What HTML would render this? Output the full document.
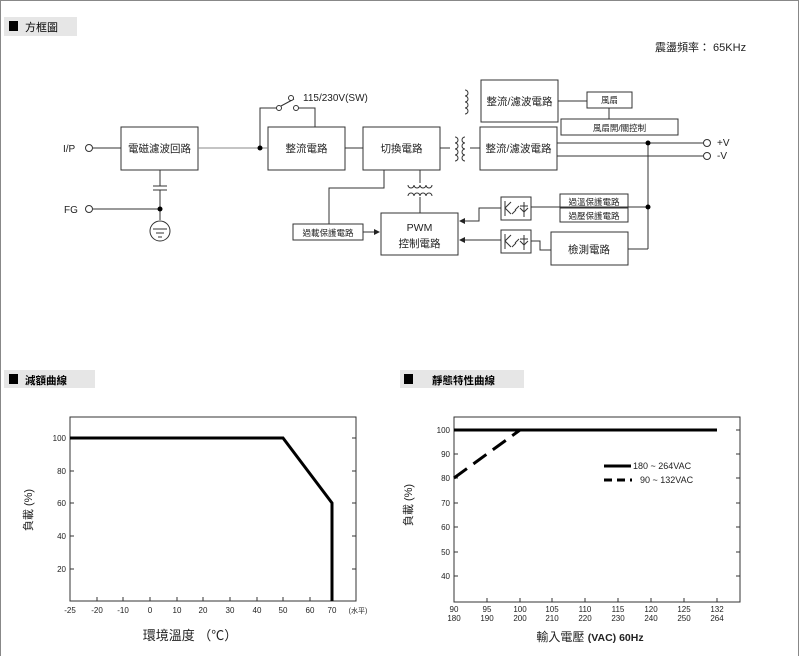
<!DOCTYPE html>
<html><head><meta charset="utf-8"><style>
body{margin:0;background:#fff;}
svg{display:block;font-family:"Liberation Sans","Noto Sans CJK TC",sans-serif;}
</style></head><body>
<svg width="800" height="656" viewBox="0 0 800 656" xmlns="http://www.w3.org/2000/svg">
<defs><marker id="ar" markerWidth="6" markerHeight="6" refX="5" refY="3" orient="auto"><path d="M0,0 L6,3 L0,6z" fill="#222"/></marker></defs>
<rect x="0.5" y="0.5" width="798" height="660" fill="none" stroke="#888"/>
<!-- header 1 -->
<rect x="4" y="17" width="73" height="19" fill="#e6e6e6"/>
<rect x="9" y="21" width="9" height="10" fill="#000"/>
<text x="25" y="31" font-size="11">方框圖</text>
<text x="655" y="51" font-size="11" fill="#222">震盪頻率： 65KHz</text>
<g fill="none" stroke="#333" stroke-width="1">
<rect x="121" y="127" width="77" height="43"/>
<rect x="268" y="127" width="77" height="43"/>
<rect x="363" y="127" width="77" height="43"/>
<rect x="481" y="80" width="77" height="42"/>
<rect x="480" y="127" width="77" height="43"/>
<rect x="587" y="92" width="45" height="16"/>
<rect x="561" y="119" width="117" height="16"/>
<rect x="560" y="194" width="68" height="28"/>
<line x1="560" y1="208" x2="628" y2="208"/>
<rect x="501" y="197" width="30" height="23"/>
<rect x="501" y="230" width="30" height="23"/>
<rect x="551" y="232" width="77" height="33"/>
<rect x="381" y="213" width="77" height="42"/>
<rect x="293" y="224" width="70" height="16"/>
<line x1="93" y1="148" x2="121" y2="148"/>
<line x1="198" y1="148" x2="268" y2="148" stroke="#888"/>
<polyline points="260,148 260,108 279,108"/>
<polyline points="296,108 315,108 315,127"/>
<line x1="281" y1="106" x2="294" y2="99"/>
<line x1="345" y1="148" x2="363" y2="148"/>
<line x1="440" y1="148" x2="450" y2="148"/>
<line x1="470" y1="148" x2="480" y2="148"/>
<line x1="558" y1="101" x2="587" y2="101"/>
<line x1="609" y1="108" x2="609" y2="119"/>
<line x1="557" y1="143" x2="703" y2="143"/>
<line x1="557" y1="156" x2="703" y2="156"/>
<line x1="648" y1="143" x2="648" y2="249"/>
<line x1="628" y1="249" x2="648" y2="249"/>
<line x1="531" y1="207" x2="648" y2="207"/>
<polyline points="531,241 540,241 540,250 551,250"/>
<polyline points="501,208 479,208 479,221 460,221" marker-end="url(#ar)"/>
<line x1="501" y1="240" x2="460" y2="240" marker-end="url(#ar)"/>
<polyline points="384,170 384,188 329,188 329,224"/>
<line x1="420" y1="170" x2="420" y2="183"/>
<line x1="420" y1="197" x2="420" y2="213"/>
<line x1="363" y1="232" x2="379" y2="232" marker-end="url(#ar)"/>
<line x1="160" y1="170" x2="160" y2="186"/>
<line x1="153" y1="186" x2="167" y2="186"/>
<line x1="153" y1="190" x2="167" y2="190"/>
<line x1="160" y1="190" x2="160" y2="220"/>
<line x1="93" y1="209" x2="160" y2="209"/>
<circle cx="160" cy="231" r="10"/>
<line x1="153" y1="229" x2="167" y2="229"/><line x1="156" y1="233" x2="164" y2="233"/><line x1="158" y1="237" x2="162" y2="237"/>
<!-- coils -->
<path d="M465,90 a3,3 0 0 1 0,6 a3,3 0 0 1 0,6 a3,3 0 0 1 0,6 a3,3 0 0 1 0,6"/>
<path d="M455,137 a3,3 0 0 1 0,6 a3,3 0 0 1 0,6 a3,3 0 0 1 0,6 a3,3 0 0 1 0,6"/>
<path d="M465,137 a3,3 0 0 0 0,6 a3,3 0 0 0 0,6 a3,3 0 0 0 0,6 a3,3 0 0 0 0,6"/>
<path d="M408,185 a3,3 0 0 0 6,0 a3,3 0 0 0 6,0 a3,3 0 0 0 6,0 a3,3 0 0 0 6,0"/>
<path d="M408,196 a3,3 0 0 1 6,0 a3,3 0 0 1 6,0 a3,3 0 0 1 6,0 a3,3 0 0 1 6,0"/>
<!-- opto glyphs -->
<path d="M505,201 v15 M505,208 l6,-6 M505,208 l6,6 M512,214 l4,-4 M515,210 l4,-4 M524,202 v15 M520,206 h8 M520,208 l4,4 l4,-4"/>
<path d="M505,234 v15 M505,241 l6,-6 M505,241 l6,6 M512,247 l4,-4 M515,243 l4,-4 M524,235 v15 M520,239 h8 M520,241 l4,4 l4,-4"/>
</g>
<g fill="#fff" stroke="#333">
<circle cx="89" cy="148" r="3.5"/><circle cx="89" cy="209" r="3.5"/>
<circle cx="707" cy="143" r="3.5"/><circle cx="707" cy="156" r="3.5"/>
<circle cx="279" cy="108" r="2.5"/><circle cx="296" cy="108" r="2.5"/><circle cx="291" cy="98" r="2.5"/>
</g>
<g fill="#000"><circle cx="260" cy="148" r="2.5"/><circle cx="160" cy="209" r="2.5"/><circle cx="648" cy="143" r="2.5"/><circle cx="648" cy="207" r="2.5"/></g>
<g font-size="10.5" fill="#222" text-anchor="middle">
<text x="159.5" y="152">電磁濾波回路</text>
<text x="306.5" y="152">整流電路</text>
<text x="401.5" y="152">切換電路</text>
<text x="519.5" y="105">整流/濾波電路</text>
<text x="518.5" y="152">整流/濾波電路</text>
<text x="589" y="253">檢測電路</text>
<text x="419.5" y="231">PWM</text>
<text x="419.5" y="247">控制電路</text>
</g>
<g font-size="8.5" fill="#222" text-anchor="middle">
<text x="609.5" y="103">風扇</text>
<text x="619.5" y="131">風扇開/關控制</text>
<text x="594" y="205">過溫保護電路</text>
<text x="594" y="219">過壓保護電路</text>
<text x="328" y="236">過載保護電路</text>
</g>
<g font-size="10" fill="#222">
<text x="303" y="101">115/230V(SW)</text>
<text x="63" y="152">I/P</text>
<text x="64" y="213">FG</text>
<text x="717" y="146">+V</text>
<text x="717" y="159">-V</text>
</g>
<!-- chart 1 -->
<rect x="4" y="370" width="91" height="18" fill="#e6e6e6"/>
<rect x="9" y="374" width="9" height="10" fill="#000"/>
<text x="25" y="384" font-size="10.5" font-weight="bold">減額曲線</text>
<rect x="70" y="417" width="286" height="184" fill="none" stroke="#333"/>
<g stroke="#333">
<line x1="70" y1="438" x2="74" y2="438"/><line x1="70" y1="471" x2="74" y2="471"/><line x1="70" y1="503" x2="74" y2="503"/><line x1="70" y1="536" x2="74" y2="536"/><line x1="70" y1="569" x2="74" y2="569"/>
<line x1="352" y1="438" x2="356" y2="438"/><line x1="352" y1="471" x2="356" y2="471"/><line x1="352" y1="503" x2="356" y2="503"/><line x1="352" y1="536" x2="356" y2="536"/><line x1="352" y1="569" x2="356" y2="569"/>
<path d="M97,601v-4M123,601v-4M150,601v-4M177,601v-4M203,601v-4M230,601v-4M257,601v-4M283,601v-4M310,601v-4"/>
</g>
<polyline points="70,438 283,438 332,503 332,601" fill="none" stroke="#000" stroke-width="3"/>
<g font-size="8" fill="#222" text-anchor="end">
<text x="66" y="441">100</text><text x="66" y="474">80</text><text x="66" y="506">60</text><text x="66" y="539">40</text><text x="66" y="572">20</text>
</g>
<g font-size="8" fill="#222" text-anchor="middle">
<text x="70" y="613">-25</text><text x="97" y="613">-20</text><text x="123" y="613">-10</text><text x="150" y="613">0</text><text x="177" y="613">10</text><text x="203" y="613">20</text><text x="230" y="613">30</text><text x="257" y="613">40</text><text x="283" y="613">50</text><text x="310" y="613">60</text><text x="332" y="613">70</text>
<text x="358" y="613" font-size="7">(水平)</text>
</g>
<text x="190" y="640" font-size="13" text-anchor="middle" fill="#222">環境溫度 （℃）</text>
<text transform="translate(32,510) rotate(-90)" font-size="11" fill="#222" text-anchor="middle">負載 (%)</text>
<!-- chart 2 -->
<rect x="400" y="370" width="124" height="18" fill="#e6e6e6"/>
<rect x="404" y="374" width="9" height="10" fill="#000"/>
<text x="432" y="384" font-size="10.5" font-weight="bold">靜態特性曲線</text>
<rect x="454" y="417" width="286" height="185" fill="none" stroke="#333"/>
<g stroke="#333">
<path d="M454,430h4M454,454h4M454,478h4M454,503h4M454,527h4M454,552h4M454,576h4"/>
<path d="M736,430h4M736,454h4M736,478h4M736,503h4M736,527h4M736,552h4M736,576h4"/>
<path d="M487,602v-4M520,602v-4M552,602v-4M585,602v-4M618,602v-4M651,602v-4M684,602v-4M717,602v-4"/>
</g>
<line x1="454" y1="430" x2="717" y2="430" stroke="#000" stroke-width="3"/>
<line x1="454" y1="478" x2="520" y2="430" stroke="#000" stroke-width="3" stroke-dasharray="16,8"/>
<line x1="604" y1="466" x2="631" y2="466" stroke="#000" stroke-width="3"/>
<line x1="604" y1="480" x2="632" y2="480" stroke="#000" stroke-width="3" stroke-dasharray="8,5"/>
<g font-size="9" fill="#222">
<text x="633" y="469">180 ~ 264VAC</text>
<text x="640" y="483">90 ~ 132VAC</text>
</g>
<g font-size="8" fill="#222" text-anchor="end">
<text x="450" y="433">100</text><text x="450" y="457">90</text><text x="450" y="481">80</text><text x="450" y="506">70</text><text x="450" y="530">60</text><text x="450" y="555">50</text><text x="450" y="579">40</text>
</g>
<g font-size="8" fill="#222" text-anchor="middle">
<text x="454" y="612">90</text><text x="454" y="621">180</text>
<text x="487" y="612">95</text><text x="487" y="621">190</text>
<text x="520" y="612">100</text><text x="520" y="621">200</text>
<text x="552" y="612">105</text><text x="552" y="621">210</text>
<text x="585" y="612">110</text><text x="585" y="621">220</text>
<text x="618" y="612">115</text><text x="618" y="621">230</text>
<text x="651" y="612">120</text><text x="651" y="621">240</text>
<text x="684" y="612">125</text><text x="684" y="621">250</text>
<text x="717" y="612">132</text><text x="717" y="621">264</text>
</g>
<text x="590" y="641" font-size="12" text-anchor="middle" fill="#222">輸入電壓 <tspan font-weight="bold" font-size="10.5">(VAC) 60Hz</tspan></text>
<text transform="translate(412,505) rotate(-90)" font-size="11" fill="#222" text-anchor="middle">負載 (%)</text>
</svg>
</body></html>
